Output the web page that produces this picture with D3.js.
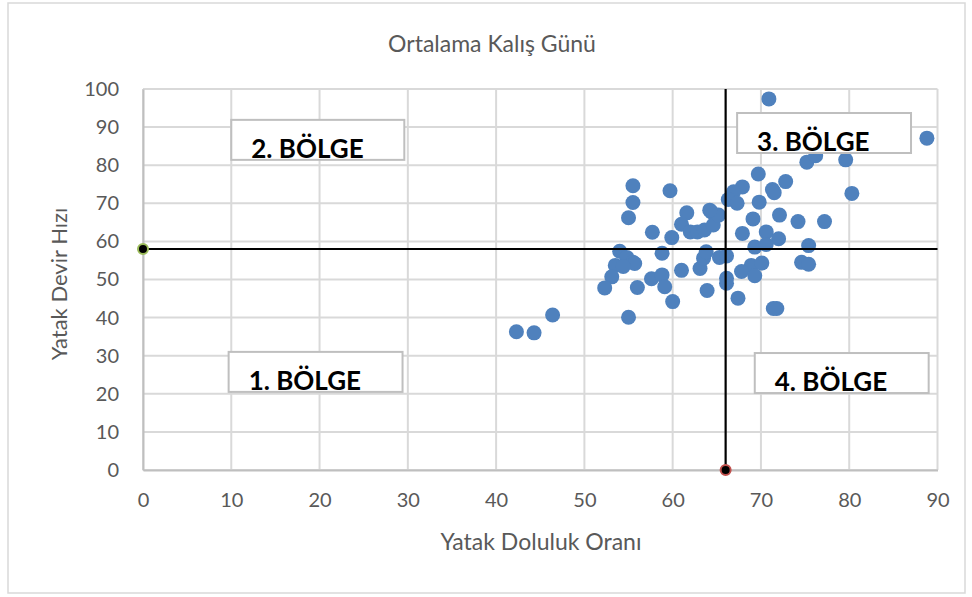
<!DOCTYPE html>
<html>
<head>
<meta charset="utf-8">
<script src="https://cdn.jsdelivr.net/npm/d3@7"></script>
<style>
 body { margin: 0; background: #fff; }
 text { font-family: Lato, "Open Sans", sans-serif; }
</style>
</head>
<body>
<svg></svg>
<script>
// Data: bed occupancy rate (x) and bed turnover rate (y).

var doluluk = [42.3, 44.3, 46.4, 55.0,
 55.5, 55.5, 55.0, 54.0, 54.8, 55.5, 55.7, 53.5, 54.4, 53.1, 52.3, 56.0,
 57.7, 59.9, 59.7, 58.8, 57.6, 58.8, 59.1, 60.0,
 61.6, 61.0, 62.0, 62.8, 63.6, 64.4, 64.6, 65.2, 64.2,
 61.0, 63.1, 63.5, 63.8, 65.3, 66.1, 63.9, 66.1, 66.1, 67.4,
 70.9, 88.8, 75.2, 76.2, 79.6, 80.3, 69.7, 72.8, 71.3, 71.5, 67.9, 66.9, 66.3, 67.3, 69.8,
 69.1, 72.1, 74.2, 77.2, 67.9, 70.6, 72.0, 69.3, 70.6, 75.4,
 68.9, 70.1, 67.8, 69.3, 74.6, 75.4, 71.8, 71.4];

var devir = [36.3, 36.0, 40.7, 40.1,
 74.6, 70.2, 66.2, 57.4, 55.8, 54.5, 54.2, 53.7, 53.4, 50.7, 47.8, 47.9,
 62.4, 61.0, 73.3, 56.9, 50.2, 51.2, 48.1, 44.2,
 67.5, 64.5, 62.5, 62.5, 63.0, 67.7, 64.3, 66.9, 68.2,
 52.4, 52.9, 55.6, 57.3, 55.8, 56.2, 47.1, 50.3, 49.0, 45.1,
 97.4, 87.1, 80.8, 82.5, 81.4, 72.6, 77.7, 75.7, 73.6, 72.8, 74.3, 73.0, 71.0, 70.0, 70.3,
 65.9, 66.9, 65.2, 65.2, 62.1, 62.5, 60.7, 58.5, 59.2, 58.9,
 53.7, 54.3, 52.1, 51.0, 54.5, 54.0, 42.4, 42.4];

// Averages used as the quadrant split.
var ortX = 66;
var ortY = 58;

var xTicks = [0, 10, 20, 30, 40, 50, 60, 70, 80, 90];
var yTicks = [0, 10, 20, 30, 40, 50, 60, 70, 80, 90, 100];

var bolgeler = ['1. BÖLGE', '2. BÖLGE', '3. BÖLGE', '4. BÖLGE'];

// Label box extents, in data units.
var kutular = [
 {x0: 9.7, x1: 29.4, y0: 20.5, y1: 31.0},
 {x0: 10.0, x1: 29.6, y0: 81.4, y1: 91.9},
 {x0: 67.3, x1: 87.0, y0: 83.2, y1: 93.7},
 {x0: 69.3, x1: 89.0, y0: 20.2, y1: 30.7}
];

var svg = d3.select('svg').attr('width', 972).attr('height', 597);

// outer chart frame
svg.append('rect')
 .attr('x', 8).attr('y', 3).attr('width', 957).attr('height', 590)
 .attr('fill', '#fff').attr('stroke', '#d9d9d9').attr('stroke-width', 1.5);

var x = d3.scaleLinear().domain([0, 90]).range([143, 937.5]);
var y = d3.scaleLinear().domain([0, 100]).range([470, 89]);

// gridlines
svg.append('g').selectAll('line').data(xTicks).enter().append('line')
 .attr('x1', function(d) { return x(d); }).attr('x2', function(d) { return x(d); })
 .attr('y1', y(0)).attr('y2', y(100))
 .attr('stroke', '#d9d9d9').attr('stroke-width', 2);

svg.append('g').selectAll('line').data(yTicks).enter().append('line')
 .attr('x1', x(0)).attr('x2', x(90))
 .attr('y1', function(d) { return y(d); }).attr('y2', function(d) { return y(d); })
 .attr('stroke', '#d9d9d9').attr('stroke-width', 2);

// axes
var xAxis = svg.append('g').attr('transform', 'translate(0,' + y(0) + ')')
 .call(d3.axisBottom(x).tickValues(xTicks).tickSize(0).tickPadding(23));
var yAxis = svg.append('g').attr('transform', 'translate(' + x(0) + ',0)')
 .call(d3.axisLeft(y).tickValues(yTicks).tickSize(0).tickPadding(24));
[xAxis, yAxis].forEach(function(a) {
 a.select('.domain').attr('stroke', '#bfbfbf').attr('stroke-width', 2);
 a.selectAll('text').attr('fill', '#595959').style('font-size', '20px').style('font-family', 'Lato');
});

// points
svg.append('g').selectAll('circle')
 .data(doluluk.map(function(d, i) { return [d, devir[i]]; }))
 .enter().append('circle')
 .attr('cx', function(d) { return x(d[0]); })
 .attr('cy', function(d) { return y(d[1]); })
 .attr('r', 7.5)
 .attr('fill', '#4f81bd');

// average lines
svg.append('line')
 .attr('x1', x(0)).attr('x2', x(90)).attr('y1', y(ortY)).attr('y2', y(ortY))
 .attr('stroke', '#000').attr('stroke-width', 2.2);
svg.append('line')
 .attr('x1', x(ortX)).attr('x2', x(ortX)).attr('y1', y(0)).attr('y2', y(100))
 .attr('stroke', '#000').attr('stroke-width', 2.2);
svg.append('circle').attr('cx', x(0)).attr('cy', y(ortY)).attr('r', 5)
 .attr('fill', '#000').attr('stroke', '#9bbb59').attr('stroke-width', 2);
svg.append('circle').attr('cx', x(ortX)).attr('cy', y(0)).attr('r', 5)
 .attr('fill', '#000').attr('stroke', '#c0504d').attr('stroke-width', 2);

// region labels
var kutu = svg.append('g').selectAll('g').data(kutular).enter().append('g');
kutu.append('rect')
 .attr('x', function(d) { return x(d.x0); })
 .attr('y', function(d) { return y(d.y1); })
 .attr('width', function(d) { return x(d.x1) - x(d.x0); })
 .attr('height', function(d) { return y(d.y0) - y(d.y1); })
 .attr('fill', '#fff').attr('stroke', '#bfbfbf').attr('stroke-width', 2);
kutu.append('text')
 .attr('x', function(d) { return x(d.x0) + 20; })
 .attr('y', function(d) { return y(d.y0) - 2; })
 .style('font-size', '26px').style('font-weight', 'bold')
 .attr('fill', '#000')
 .text(function(d, i) { return bolgeler[i]; });

// titles
svg.append('text').attr('x', 492).attr('y', 52).attr('text-anchor', 'middle')
 .style('font-size', '23px').attr('fill', '#595959').text('Ortalama Kalış Günü');
svg.append('text').attr('x', 541).attr('y', 550).attr('text-anchor', 'middle')
 .style('font-size', '23px').attr('fill', '#595959').text('Yatak Doluluk Oranı');
svg.append('text').attr('transform', 'translate(67,284) rotate(-90)').attr('text-anchor', 'middle')
 .style('font-size', '22px').attr('fill', '#595959').text('Yatak Devir Hızı');
</script>
</body>
</html>
